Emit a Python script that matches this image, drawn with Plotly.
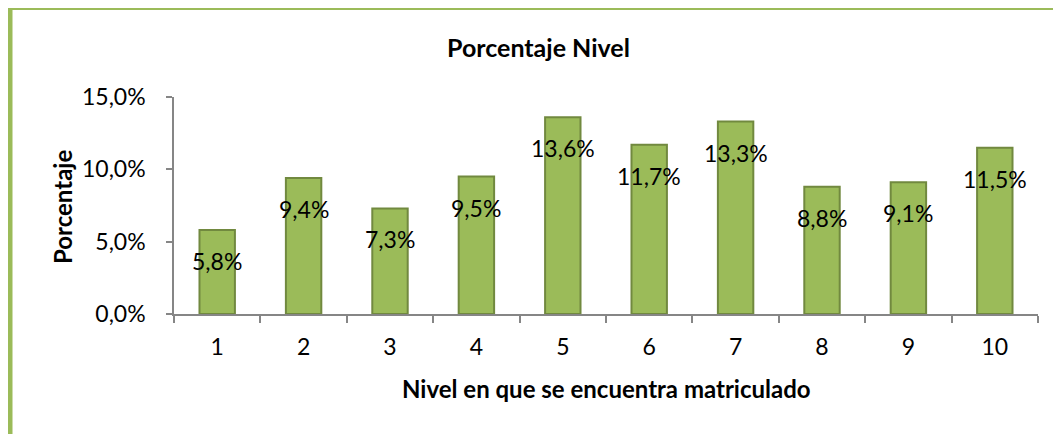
import plotly.graph_objects as go

categories = ["1", "2", "3", "4", "5", "6", "7", "8", "9", "10"]
values = [5.8, 9.4, 7.3, 9.5, 13.6, 11.7, 13.3, 8.8, 9.1, 11.5]
labels = ["5,8%", "9,4%", "7,3%", "9,5%", "13,6%", "11,7%", "13,3%", "8,8%", "9,1%", "11,5%"]
ytick_vals = [0, 5, 10, 15]
ytick_text = ["0,0%", "5,0%", "10,0%", "15,0%"]

OFF = 8  # page body margin
W, H = 1061 - OFF, 434 - OFF
# plot area in screenshot pixels: x 174..1038, y 97..314
L, R, T, B = 174 - OFF, 1061 - 1038, 97 - OFF, 434 - 314
pw, ph = W - L - R, H - T - B

def px_x(x):
    return (x - OFF - L) / pw

def px_y(y):
    return (H - B - (y - OFF)) / ph

FONT = "Lato"

fig = go.Figure()
fig.add_trace(go.Bar(
    x=categories, y=values, width=0.41,
    marker=dict(color="#9BBB59", line=dict(color="#71893F", width=2)),
    hoverinfo="skip",
))

for i, (v, t) in enumerate(zip(values, labels)):
    fig.add_annotation(x=i, y=v, text=t, showarrow=False, yanchor="middle", yshift=-31,
                       font=dict(family=FONT, size=23, color="#000000"))

# axis titles
fig.add_annotation(xref="paper", yref="paper", x=px_x(606), y=px_y(388),
                   text="<b>Nivel en que se encuentra matriculado</b>", showarrow=False,
                   xanchor="center", yanchor="middle", font=dict(family=FONT, size=24))
fig.add_annotation(xref="paper", yref="paper", x=px_x(62), y=px_y(207),
                   text="<b>Porcentaje</b>", showarrow=False, textangle=-90,
                   xanchor="center", yanchor="middle", font=dict(family=FONT, size=24))
# title
fig.add_annotation(xref="paper", yref="paper", x=px_x(538), y=px_y(47),
                   text="<b>Porcentaje Nivel</b>", showarrow=False,
                   xanchor="center", yanchor="middle", font=dict(family=FONT, size=25))

# green frame (left and top)
fig.add_shape(type="line", xref="paper", yref="paper",
              x0=px_x(10), x1=px_x(10), y0=px_y(7), y1=px_y(440),
              line=dict(color="#9BBB59", width=5))
fig.add_shape(type="line", xref="paper", yref="paper",
              x0=px_x(8), x1=px_x(1070), y0=px_y(8.5), y1=px_y(8.5),
              line=dict(color="#9BBB59", width=3))

fig.update_layout(
    width=W, height=H,
    margin=dict(l=L, r=R, t=T, b=B),
    paper_bgcolor="white", plot_bgcolor="white",
    showlegend=False,
    font=dict(family=FONT, size=23, color="#000000"),
    xaxis=dict(
        type="category", range=[-0.5, 9.5], showline=True, linecolor="#868686", linewidth=1.5,
        ticks="outside", tickson="boundaries", ticklen=7, tickcolor="#868686", tickwidth=1.5,
        showgrid=False, tickfont=dict(size=23), ticklabelstandoff=12,
    ),
    yaxis=dict(
        range=[0, 15], tickvals=ytick_vals, ticktext=ytick_text,
        showline=True, linecolor="#868686", linewidth=1.5,
        ticks="outside", ticklen=6, tickcolor="#868686", tickwidth=1.5,
        showgrid=False, zeroline=False, tickfont=dict(size=23), ticklabelstandoff=16,
    ),
)

fig.write_html("out.html")
